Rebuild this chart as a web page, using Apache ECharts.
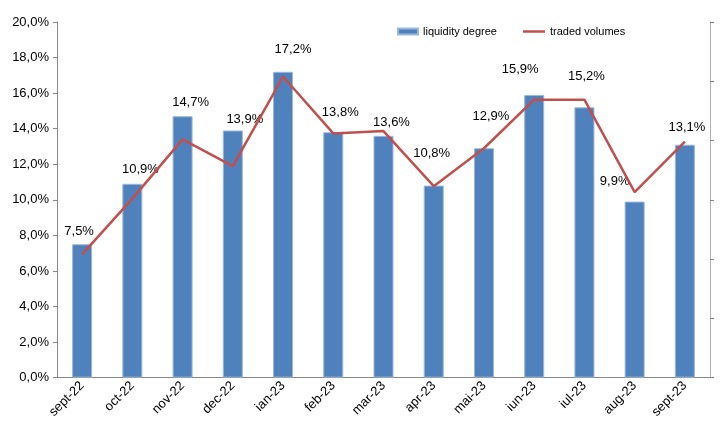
<!DOCTYPE html>
<html>
<head>
<meta charset="utf-8">
<script src="https://cdn.jsdelivr.net/npm/echarts@6/dist/echarts.min.js"></script>
<style>
  html, body { margin: 0; padding: 0; background: #fff; }
  #chart { width: 721px; height: 421px; }
</style>
</head>
<body>
<div id="chart"></div>
<script>
// months
const months = ["sept-22", "oct-22", "nov-22", "dec-22", "ian-23", "feb-23", "mar-23",
  "apr-23", "mai-23", "iun-23", "iul-23", "aug-23", "sept-23"];
// liquidity degree, %
const liquidity = [7.5, 10.9, 14.7, 13.9, 17.2, 13.8, 13.6, 10.8, 12.9, 15.9, 15.2, 9.9, 13.1];
// traded volumes (secondary axis, no labels shown)
const volumes = [2.08, 3.02, 4.02, 3.57, 5.08, 4.12, 4.16, 3.23, 3.87, 4.69, 4.69, 3.13, 3.98];
// left axis
const leftMin = 0, leftMax = 20, leftStep = 2;

// label nudges, like the hand-moved labels in the original
const labelNudge = [[-3, -1], [8, -3], [8, -2], [12, 0], [10, -11], [7, -8], [8, -2],
  [-2, -21], [7, -20], [-14, -14], [2, -19], [-20, -9], [2, -6]];

const fmt = v => v.toFixed(1).replace(".", ",") + "%";
const font = "'Liberation Sans', Arial, sans-serif";
const legendText = { fontSize: 11, color: "#000", fontFamily: font };

const chart = echarts.init(document.getElementById("chart"));
chart.setOption({
  animation: false,
  textStyle: { fontFamily: font },
  grid: { left: 57, right: 11, top: 22, bottom: 41 },
  // two legends so the line key can be a thin bar
  legend: [
    {
      left: 392, top: 21,
      itemWidth: 20, itemHeight: 6,
      textStyle: legendText,
      data: [{ name: "liquidity degree", icon: "rect" }]
    },
    {
      left: 518, top: 21,
      itemWidth: 22, itemHeight: 2.5,
      textStyle: legendText,
      data: [{ name: "traded volumes", icon: "rect" }]
    }
  ],
  xAxis: {
    type: "category",
    data: months,
    axisLine: { lineStyle: { color: "#878787" } },
    axisTick: { length: 4, lineStyle: { color: "#878787" } },
    axisLabel: { rotate: 45, fontSize: 13, color: "#000", margin: 6 }
  },
  yAxis: [
    {
      type: "value",
      min: leftMin, max: leftMax, interval: leftStep,
      axisLine: { show: true, lineStyle: { color: "#878787" } },
      axisTick: { show: true, length: 4, lineStyle: { color: "#878787" } },
      splitLine: { show: false },
      axisLabel: { fontSize: 13, color: "#000", margin: 8, formatter: fmt }
    },
    {
      type: "value",
      min: 0, max: 6, interval: 1,
      position: "right",
      axisLine: { show: true, lineStyle: { color: "#b0b0b0" } },
      axisTick: { show: true, length: 4, lineStyle: { color: "#878787" } },
      splitLine: { show: false },
      axisLabel: { show: false }
    }
  ],
  series: [
    {
      name: "liquidity degree",
      type: "bar",
      barWidth: 20,
      itemStyle: { color: "#4F81BD", borderColor: "#9BB7DA", borderWidth: 1 },
      data: liquidity.map((v, i) => ({
        value: v,
        label: { offset: labelNudge[i] }
      })),
      label: {
        show: true,
        position: "top",
        distance: 5,
        fontSize: 13,
        color: "#000",
        fontFamily: font,
        formatter: p => fmt(p.value)
      }
    },
    {
      name: "traded volumes",
      type: "line",
      yAxisIndex: 1,
      symbol: "none",
      z: 5,
      lineStyle: { color: "#C0504D", width: 2.5 },
      itemStyle: { color: "#C0504D" },
      data: volumes
    }
  ]
});
</script>
</body>
</html>
